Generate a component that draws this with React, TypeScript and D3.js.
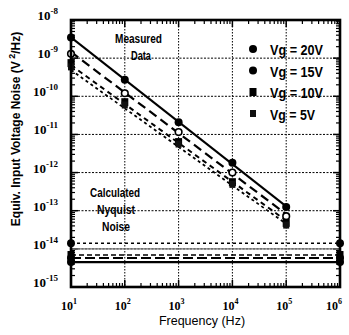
import * as d3 from "d3";

// measured data (V^2/Hz) at each frequency
const freqs = [10, 100, 1e3, 1e4, 1e5];
const vg20 = [3.5e-9, 2.7e-10, 2.1e-11, 1.8e-12, 1.25e-13];
const vg15 = [1.3e-9, 1.2e-10, 1.15e-11, 1.0e-12, 7.2e-14];
const vg10 = [7.4e-10, 7.0e-11, 6.3e-12, 5.6e-13, 4.8e-14];
const vg5 = [5.9e-10, 5.9e-11, 5.6e-12, 4.9e-13, 4.2e-14];

// fitted 1/f lines
const fitFreqs = [10, 1e5];
const fit20 = [3.5e-9, 1.3e-13];
const fit15 = [1.45e-9, 8.1e-14];
const fit10 = [6.5e-10, 5.5e-14];
const fit5 = [4.9e-10, 4.5e-14];

// calculated nyquist noise levels
const nyqFreqs = [10, 1e6];
const nyqLevels = [1.4e-14, 1.0e-14, 6.9e-15, 5.8e-15, 4.5e-15];

const legendLabels = ["Vg = 20V", "Vg = 15V", "Vg = 10V", "Vg = 5V"];
const xTicks = [1, 2, 3, 4, 5, 6];
const yTicks = [-8, -9, -10, -11, -12, -13, -14, -15];

const W = 349;
const H = 335;
const m = { left: 71, right: 340, top: 20, bottom: 287 };

const x = d3.scaleLog().domain([10, 1e6]).range([m.left, m.right]);
const y = d3.scaleLog().domain([1e-15, 1e-8]).range([m.bottom, m.top]);

const line = d3
  .line<[number, number]>()
  .x((d) => x(d[0]))
  .y((d) => y(d[1]));

const pts = (fs: number[], vs: number[]) =>
  fs.map((f, i) => [f, vs[i]] as [number, number]);

const sans = "'Liberation Sans', Arial, sans-serif";
const serif = "'Liberation Serif', 'Times New Roman', serif";

function Marker({ kind, cx, cy }: { kind: string; cx: number; cy: number }) {
  if (kind === "dot") return <circle cx={cx} cy={cy} r={4} fill="#000" />;
  if (kind === "open")
    return <circle cx={cx} cy={cy} r={3.3} fill="#fff" stroke="#000" strokeWidth={1.6} />;
  if (kind === "sq")
    return <rect x={cx - 3.5} y={cy - 4} width={7} height={8} fill="#000" />;
  return <rect x={cx - 3} y={cy - 3.5} width={6} height={7} fill="#111" />;
}

// squeezed bold text, the original uses a condensed face
function Narrow({ x0, y0, w, size, children }: { x0: number; y0: number; w: number; size: number; children: string }) {
  return (
    <text
      x={x0}
      y={y0}
      textLength={w}
      lengthAdjust="spacingAndGlyphs"
      fontFamily={sans}
      fontWeight="bold"
      fontSize={size}
      fill="#000"
    >
      {children}
    </text>
  );
}

export default function App() {
  // minor ticks
  const xMinor: number[] = [];
  for (let e = 1; e < 6; e++) for (let k = 2; k < 10; k++) xMinor.push(k * Math.pow(10, e));
  const yMinor: number[] = [];
  for (let e = -15; e < -8; e++) for (let k = 2; k < 10; k++) yMinor.push(k * Math.pow(10, e));

  const series = [
    { data: vg20, fit: fit20, kind: "dot", dash: "", sw: 2 },
    { data: vg15, fit: fit15, kind: "open", dash: "9,5", sw: 2.2 },
    { data: vg10, fit: fit10, kind: "sq", dash: "5,4", sw: 2 },
    { data: vg5, fit: fit5, kind: "sq2", dash: "3,3", sw: 1.8 },
  ];

  const nyqStyles = [
    { dash: "3,3", sw: 1.4, stroke: "#000", kind: "dot" },
    { dash: "", sw: 1.2, stroke: "#777", kind: "" },
    { dash: "5,3", sw: 1.6, stroke: "#000", kind: "sq" },
    { dash: "10,4", sw: 2, stroke: "#000", kind: "dot" },
    { dash: "", sw: 2.2, stroke: "#000", kind: "dot" },
  ];

  return (
    <svg
      width={W}
      height={H}
      style={{ position: "absolute", left: 0, top: 0, background: "#fff" }}
    >
      {/* gridlines */}
      {[2, 3, 4, 5].map((e) => (
        <line
          key={"gx" + e}
          x1={x(Math.pow(10, e))}
          x2={x(Math.pow(10, e))}
          y1={m.top}
          y2={m.bottom}
          stroke="#000"
          strokeWidth={1}
          strokeDasharray="1.5,1.5"
        />
      ))}
      {[-9, -10, -11, -12, -13, -14].map((e) => (
        <line
          key={"gy" + e}
          x1={m.left}
          x2={m.right}
          y1={y(Math.pow(10, e))}
          y2={y(Math.pow(10, e))}
          stroke="#000"
          strokeWidth={1}
          strokeDasharray="2,1.5"
        />
      ))}

      {/* minor ticks */}
      {xMinor.map((f) => (
        <g key={"xm" + f}>
          <line x1={x(f)} x2={x(f)} y1={m.bottom} y2={m.bottom - 4} stroke="#000" strokeWidth={1.2} />
          <line x1={x(f)} x2={x(f)} y1={m.top} y2={m.top + 4} stroke="#000" strokeWidth={1.2} />
        </g>
      ))}
      {yMinor.map((v) => (
        <g key={"ym" + v}>
          <line x1={m.left} x2={m.left + 4} y1={y(v)} y2={y(v)} stroke="#000" strokeWidth={1.2} />
          <line x1={m.right} x2={m.right - 4} y1={y(v)} y2={y(v)} stroke="#000" strokeWidth={1.2} />
        </g>
      ))}
      {xTicks.map((e) => (
        <g key={"xM" + e}>
          <line x1={x(Math.pow(10, e))} x2={x(Math.pow(10, e))} y1={m.bottom} y2={m.bottom - 7} stroke="#000" strokeWidth={1.5} />
          <line x1={x(Math.pow(10, e))} x2={x(Math.pow(10, e))} y1={m.top} y2={m.top + 7} stroke="#000" strokeWidth={1.5} />
        </g>
      ))}
      {yTicks.map((e) => (
        <g key={"yM" + e}>
          <line x1={m.left} x2={m.left + 7} y1={y(Math.pow(10, e))} y2={y(Math.pow(10, e))} stroke="#000" strokeWidth={1.5} />
          <line x1={m.right} x2={m.right - 7} y1={y(Math.pow(10, e))} y2={y(Math.pow(10, e))} stroke="#000" strokeWidth={1.5} />
        </g>
      ))}

      {/* nyquist lines */}
      {nyqLevels.map((v, i) => (
        <path
          key={"nq" + i}
          d={line(pts(nyqFreqs, [v, v])) || ""}
          fill="none"
          stroke={nyqStyles[i].stroke}
          strokeWidth={nyqStyles[i].sw}
          strokeDasharray={nyqStyles[i].dash}
        />
      ))}
      {nyqLevels.map((v, i) =>
        nyqStyles[i].kind
          ? nyqFreqs.map((f) => (
              <Marker key={"nm" + i + f} kind={nyqStyles[i].kind} cx={x(f)} cy={y(v)} />
            ))
          : null
      )}

      {/* fitted lines */}
      {series.map((s, i) => (
        <path
          key={"fit" + i}
          d={line(pts(fitFreqs, s.fit)) || ""}
          fill="none"
          stroke="#000"
          strokeWidth={s.sw}
          strokeDasharray={s.dash}
        />
      ))}
      {/* measured points */}
      {series.map((s, i) =>
        s.data.map((v, j) => (
          <Marker key={"p" + i + j} kind={s.kind} cx={x(freqs[j])} cy={y(v)} />
        ))
      )}

      {/* frame */}
      <rect
        x={m.left}
        y={m.top}
        width={m.right - m.left}
        height={m.bottom - m.top}
        fill="none"
        stroke="#000"
        strokeWidth={2.6}
      />

      {/* annotations */}
      <Narrow x0={115} y0={43} w={47} size={12}>Measured</Narrow>
      <Narrow x0={131} y0={60} w={20} size={12}>Data</Narrow>
      <Narrow x0={90} y0={197} w={50} size={12}>Calculated</Narrow>
      <Narrow x0={97} y0={214} w={38} size={12}>Nyquist</Narrow>
      <Narrow x0={102} y0={231} w={28} size={12}>Noise</Narrow>

      {/* legend */}
      {legendLabels.map((lab, i) => {
        const by = 55 + i * 21.5;
        const kinds = ["dot", "dot", "sq", "sq2"];
        return (
          <g key={"lg" + i}>
            <Marker kind={kinds[i]} cx={253} cy={by - 6} />
            <Narrow x0={270} y0={by} w={i === 3 ? 45 : 53} size={15}>
              {lab}
            </Narrow>
          </g>
        );
      })}

      {/* y tick labels */}
      {yTicks.map((e) => (
        <text
          key={"yl" + e}
          x={58}
          y={y(Math.pow(10, e))}
          textAnchor="end"
          fontFamily={serif}
          fontWeight="bold"
          fontSize={13}
          fill="#000"
        >
          10
          <tspan fontSize={9} dy={-6}>
            {String(e)}
          </tspan>
        </text>
      ))}

      {/* x tick labels */}
      {xTicks.map((e) => (
        <text
          key={"xl" + e}
          x={x(Math.pow(10, e)) - (e === 6 ? 6 : 2)}
          y={310}
          textAnchor="middle"
          fontFamily={serif}
          fontWeight="bold"
          fontSize={12}
          fill="#000"
        >
          10
          <tspan fontSize={8} dy={-6}>
            {String(e)}
          </tspan>
        </text>
      ))}

      {/* axis titles */}
      <text
        x={202}
        y={325}
        textAnchor="middle"
        fontFamily={sans}
        fontSize={12.5}
        fill="#000"
      >
        Frequency (Hz)
      </text>
      <text
        transform="translate(20,129) rotate(-90)"
        textAnchor="middle"
        fontFamily={sans}
        fontWeight="bold"
        fontSize={12}
        fill="#000"
      >
        Equiv. Input Voltage Noise (V
        <tspan fontSize={9} dy={-5}>
          {" 2"}
        </tspan>
        <tspan dy={5}>/Hz)</tspan>
      </text>
    </svg>
  );
}
